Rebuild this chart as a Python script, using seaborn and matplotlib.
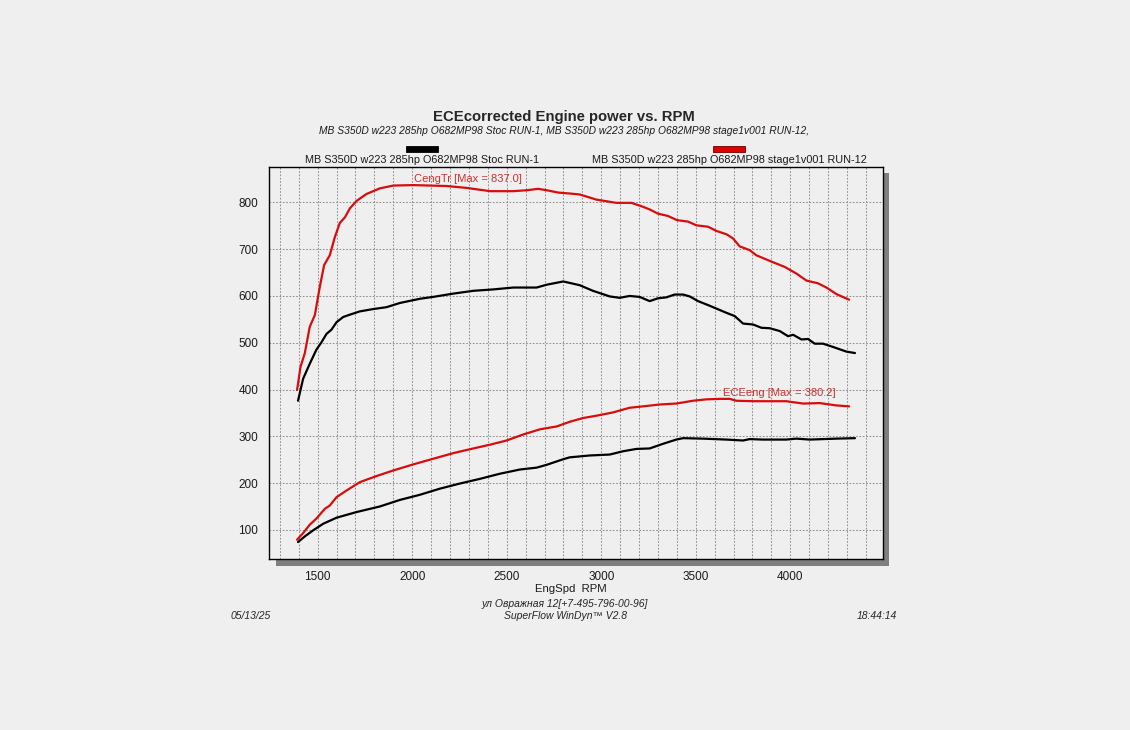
import matplotlib
matplotlib.use("Agg")
import matplotlib.pyplot as plt
import matplotlib.ticker as mticker
from matplotlib.patches import Rectangle
import seaborn as sns
import pandas as pd

# ---- data ----
stock_tq_rpm = [1396,1423,1458,1493,1520,1547,1573,1600,1635,1670,
                1723,1794,1864,1935,2041,2111,2217,2323,2429,2535,
                2658,2711,2799,2886,2956,3045,3097,3150,3203,3256,
                3300,3344,3388,3433,3468,3512,3574,3609,3662,3706,
                3750,3803,3847,3891,3944,3988,4015,4059,4094,4129,
                4173,4226,4297,4342]
stock_tq = [376,423,455,485,501,519,528,544,555,560,
            567,572,576,585,594,598,605,611,614,618,
            618,624,631,623,611,599,596,600,598,589,
            595,597,603,603,599,589,579,573,564,557,
            541,539,532,531,525,514,517,507,508,498,
            498,491,481,478]

stage_tq_rpm = [1391,1409,1432,1458,1485,1511,1534,1564,1591,1617,
                1644,1670,1705,1758,1829,1900,2006,2094,2183,2288,
                2412,2535,2606,2667,2711,2773,2833,2886,2974,3080,
                3159,3212,3256,3300,3353,3401,3459,3503,3565,3609,
                3662,3697,3732,3785,3820,3891,3971,4032,4085,4147,
                4191,4244,4311]
stage_tq = [399,448,478,534,559,619,666,687,726,756,
            768,787,803,818,830,836,837,836,835,831,
            824,824,826,829,826,821,819,817,806,799,
            799,792,785,776,771,762,759,751,748,739,
            732,723,706,698,687,675,662,648,633,627,
            618,604,592]

stock_pw_rpm = [1396,1432,1476,1529,1600,1705,1829,1935,2041,2146,
                2252,2358,2464,2570,2658,2711,2799,2833,2939,3045,
                3115,3186,3256,3327,3397,3433,3538,3662,3750,3785,
                3856,3979,4032,4103,4244,4342]
stock_pw = [74,86,99,113,126,138,150,164,175,188,
            199,209,220,229,233,239,251,255,259,261,
            268,273,274,284,293,296,295,293,291,294,
            293,293,295,293,295,296]

stage_pw_rpm = [1391,1423,1458,1493,1538,1564,1600,1652,1723,1811,
                1900,2006,2111,2217,2323,2411,2499,2588,2676,2764,
                2833,2903,2974,3062,3150,3221,3309,3397,3485,3556,
                3627,3680,3715,3803,3891,3979,4067,4156,4244,4311]
stage_pw = [79,93,111,124,145,152,170,184,202,215,
            227,240,252,264,274,282,291,304,315,321,
            331,339,344,351,361,364,368,370,376,379,
            380,380,376,375,375,375,370,371,366,364]

series_labels = ["MB S350D w223 285hp O682MP98 Stoc RUN-1",
                 "MB S350D w223 285hp O682MP98 stage1v001 RUN-12"]
title = "ECEcorrected Engine power vs. RPM"
subtitle = ("MB S350D w223 285hp O682MP98 Stoc RUN-1, "
            "MB S350D w223 285hp O682MP98 stage1v001 RUN-12,")
tq_note = "CengTr [Max = 837.0]"
pw_note = "ECEeng [Max = 380.2]"
xlabel = "EngSpd  RPM"
footer1 = "ул Овражная 12[+7-495-796-00-96]"
footer2 = "SuperFlow WinDyn™ V2.8"
date_txt = "05/13/25"
time_txt = "18:44:14"

# ---- style ----
sns.set_theme(style="white")
plt.rcParams['font.family'] = ['Liberation Sans', 'DejaVu Sans']

BG = "#efefef"
RED = "#d80c0c"
BLACK = "#000000"

fig = plt.figure(figsize=(11.3, 7.3), dpi=100, facecolor=BG)
ax = fig.add_axes([0.2383, 0.2338, 0.7812 - 0.2383, 0.7708 - 0.2338])
ax.set_facecolor(BG)
ax.set_zorder(2)

# drop shadow
fig.patches.append(Rectangle((0.2440, 0.2251), 0.5430, 0.5379,
                             transform=fig.transFigure, facecolor="#7f7f7f",
                             edgecolor="none", zorder=1))

def draw(xv, yv, color):
    df = pd.DataFrame({"rpm": xv, "val": yv})
    sns.lineplot(data=df, x="rpm", y="val", ax=ax, color=color, lw=1.6,
                 sort=False, estimator=None)

draw(stage_tq_rpm, stage_tq, RED)
draw(stock_tq_rpm, stock_tq, BLACK)
draw(stage_pw_rpm, stage_pw, RED)
draw(stock_pw_rpm, stock_pw, BLACK)

ax.set_xlim(1244, 4489)
ax.set_ylim(37, 875)
ax.xaxis.set_major_locator(mticker.MultipleLocator(500))
ax.xaxis.set_minor_locator(mticker.MultipleLocator(100))
ax.yaxis.set_major_locator(mticker.MultipleLocator(100))
ax.yaxis.set_minor_locator(mticker.MultipleLocator(20))

grid_kw = dict(color="#909090", linestyle=(0, (1.6, 1.6)), linewidth=0.75)
ax.grid(which="major", axis="both", **grid_kw)
ax.grid(which="minor", axis="x", **grid_kw)
ax.set_axisbelow(True)

ax.tick_params(axis="x", which="major", direction="out", length=6.5, width=0.8,
               color="#a0a0a0", pad=2.0, labelsize=8.5, labelcolor="#1a1a1a")
ax.tick_params(axis="x", which="minor", length=0)
ax.tick_params(axis="y", which="major", direction="out", length=4, width=0.8,
               color="#909090", pad=4, labelsize=8.5, labelcolor="#1a1a1a")
ax.tick_params(axis="y", which="minor", direction="in", length=2.5, width=0.8,
               color="#555555")

for s in ax.spines.values():
    s.set_color("#000000")
    s.set_linewidth(1.0)

ax.set_xlabel("")
ax.set_ylabel("")

ax.text(2294, 849, tq_note, color="#d03030", fontsize=8, ha="center", va="center")
ax.text(3944, 393, pw_note, color="#d03030", fontsize=8, ha="center", va="center")

# titles
W, H = 1130, 730
def ft(x, y, s, **kw):
    fig.text(x / W, 1 - y / H, s, **kw)

ft(564, 117, title, fontsize=10.7, fontweight="bold", ha="center", va="center")
ft(564, 131, subtitle, fontsize=7.4, style="italic", ha="center", va="center",
   color="#1a1a1a")

# legend swatches
fig.patches.append(Rectangle((406 / W, 1 - 152 / H), 32 / W, 6 / H,
                             transform=fig.transFigure, facecolor=BLACK,
                             edgecolor="#000000", lw=0.6, zorder=3))
fig.patches.append(Rectangle((713 / W, 1 - 152 / H), 32 / W, 6 / H,
                             transform=fig.transFigure, facecolor="#e00000",
                             edgecolor="#700000", lw=0.6, zorder=3))
ft(422, 160, series_labels[0], fontsize=7.8, ha="center", va="center", color="#1a1a1a")
ft(729, 160, series_labels[1], fontsize=7.8, ha="center", va="center", color="#1a1a1a")

# x-axis label and footer
ft(571, 589, xlabel, fontsize=8.2, ha="center", va="center", color="#1a1a1a")
ft(565, 604, footer1, fontsize=7.5, style="italic", ha="center", va="center")
ft(565, 616, footer2, fontsize=7.5, style="italic", ha="center", va="center")
ft(231, 616, date_txt, fontsize=7.5, style="italic", ha="left", va="center")
ft(897, 616, time_txt, fontsize=7.5, style="italic", ha="right", va="center")

fig.savefig("out.png", dpi=100, facecolor=BG)
